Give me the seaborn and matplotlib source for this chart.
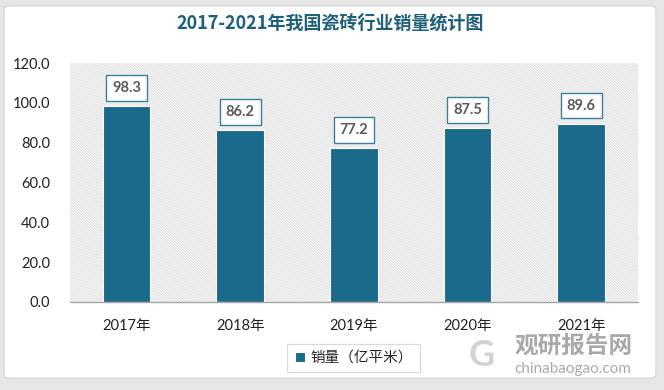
import matplotlib
matplotlib.use("Agg")
import matplotlib.pyplot as plt
import seaborn as sns
import pandas as pd
from matplotlib.patches import FancyBboxPatch, Rectangle

years = ["2017年", "2018年", "2019年", "2020年", "2021年"]
sales = [98.3, 86.2, 77.2, 87.5, 89.6]
series_name = "销量（亿平米）"
yticks = [0, 20, 40, 60, 80, 100, 120]

df = pd.DataFrame({"year": years, "sales": sales})

sns.set_theme(style="white")
plt.rcParams["font.family"] = ["Lato", "Noto Sans CJK SC", "DejaVu Sans"]
plt.rcParams["hatch.color"] = "#dadada"
plt.rcParams["hatch.linewidth"] = 0.7

bar_color = "#1b6a8c"
fig = plt.figure(figsize=(6.64, 3.9), dpi=100)
fig.patch.set_facecolor("#e6e6e6")
# white rounded panel behind everything
panel = FancyBboxPatch((0.006, 0.03), 0.982, 0.955,
                       boxstyle="round,pad=0,rounding_size=0.01",
                       transform=fig.transFigure, facecolor="white",
                       edgecolor="#d8d8d8", linewidth=1, zorder=-5)
fig.add_artist(panel)

ax = fig.add_axes([0.105, 0.226, 0.856, 0.612])
ax.set_zorder(1)
ax.set_facecolor("white")
# hatched plot background
ax.add_patch(Rectangle((0, 0), 1, 1, transform=ax.transAxes, facecolor="white",
                       edgecolor="#dadada", hatch="\\" * 12, linewidth=0, zorder=0))

sns.barplot(data=df, x="year", y="sales", color=bar_color, width=0.42,
            saturation=1, ax=ax, label=series_name, zorder=3,
            edgecolor="white", linewidth=0.8)

ax.set_ylim(0, 120)
ax.set_yticks(yticks)
ax.set_yticklabels([f"{v:.1f}" for v in yticks], fontsize=10.5, color="#222222")
ax.tick_params(axis="x", labelsize=10.5, colors="#222222", pad=12, length=0)
ax.tick_params(axis="y", length=0, pad=14)
ax.set_xlabel("")
ax.set_ylabel("")
for s in ["top", "right", "left"]:
    ax.spines[s].set_visible(False)
ax.spines["bottom"].set_color("#a6a6a6")
ax.spines["bottom"].set_linewidth(1)
ax.spines["bottom"].set_zorder(4)

for i, v in enumerate(sales):
    ax.annotate(f"{v:.1f}", (i, v), xytext=(0, 8), textcoords="offset points",
                ha="center", va="bottom", fontsize=10.5, fontweight="bold",
                color="#595959", zorder=5,
                bbox=dict(boxstyle="square,pad=0.4", facecolor="white",
                          edgecolor="#3a7f9c", linewidth=1))

fig.text(0.497, 0.94, "2017-2021年我国瓷砖行业销量统计图", ha="center", va="center",
         fontsize=13, fontweight="bold", color="#1f5f7a",
         family=["Noto Sans CJK SC", "DejaVu Sans"])

leg = ax.legend(loc="center", bbox_to_anchor=(0.5, -0.235), frameon=True,
                fontsize=10.5, handlelength=0.7, handleheight=0.7,
                handletextpad=0.4, borderpad=0.5, fancybox=False)
leg.get_frame().set_edgecolor("#d0d0d0")
leg.get_frame().set_linewidth(0.8)

# watermark
fig.text(0.775, 0.113, "观研报告网", fontsize=17, fontweight="bold", color="#9a9a9a",
         alpha=0.85, family=["Noto Sans CJK SC"], ha="left", va="center", zorder=10)
fig.text(0.775, 0.055, "chinabaogao.com", fontsize=11, color="#9a9a9a", alpha=0.85,
         ha="left", va="center", zorder=10)
fig.text(0.725, 0.088, "G", fontsize=26, fontweight="bold", color="#c8c8c8",
         alpha=0.8, ha="center", va="center", zorder=10)

fig.savefig("out.png", dpi=100, facecolor=fig.get_facecolor())
